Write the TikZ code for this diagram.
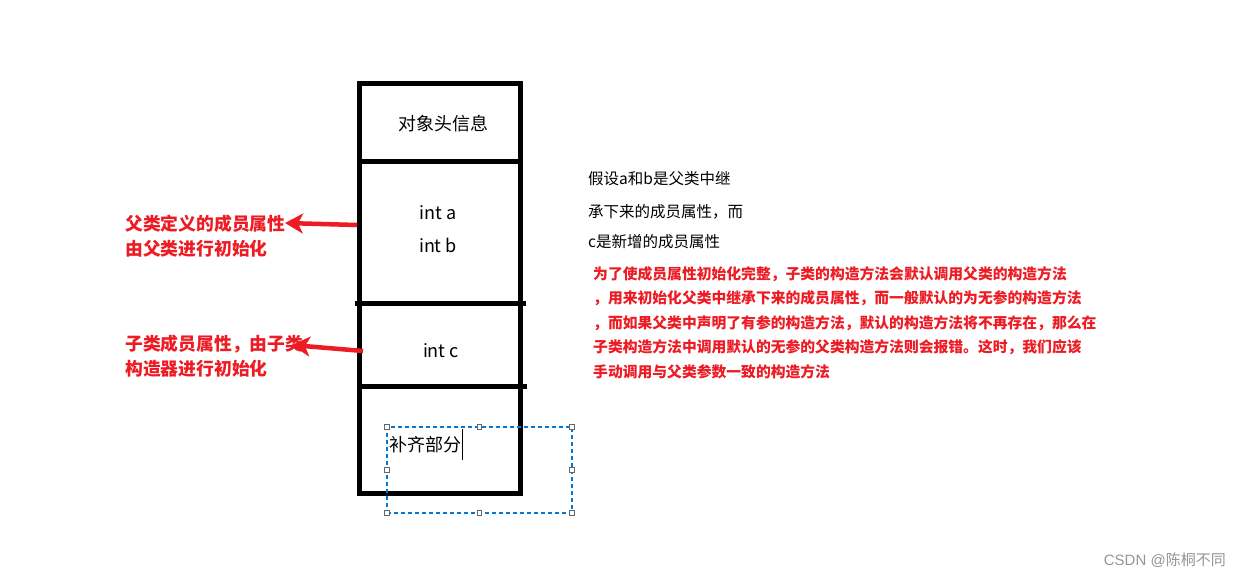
\documentclass[tikz,border=0pt]{standalone}
\usepackage{fontspec}
\setmainfont{Noto Sans CJK SC}
\newfontfamily\arialish{Liberation Sans}
\usetikzlibrary{arrows.meta}
\definecolor{redtxt}{RGB}{237,28,36}
\definecolor{selblue}{RGB}{0,120,215}
\definecolor{wmgray}{RGB}{150,150,150}
\begin{document}
\begin{tikzpicture}[x=1pt,y=-1pt,
  boxline/.style={line width=5pt},
  redarrow/.style={draw=redtxt, line width=4.5pt, -{Stealth[length=18pt,width=20pt,inset=5pt]}},
  redlabel/.style={text=redtxt, font=\fontsize{17.8}{24.5}\selectfont\bfseries, align=left, anchor=west, inner sep=0pt},
  redpara/.style={text=redtxt, font=\fontsize{14.8}{24.5}\selectfont\bfseries, align=left, anchor=north west, inner sep=0pt},
  blacktxt/.style={font=\fontsize{18}{18}\selectfont, inner sep=0pt},
  notetxt/.style={font=\fontsize{15.5}{15.5}\selectfont, anchor=west, inner sep=0pt},
  handle/.style={draw=gray!80!black, fill=white, line width=0.7pt, minimum size=4.5pt, inner sep=0pt}
]
\useasboundingbox (0,0) rectangle (1243,578);
\fill[white] (0,0) rectangle (1243,578);

% memory box
\node[draw, boxline, outer sep=0pt, minimum width=161pt, minimum height=409pt, anchor=north west, inner sep=0pt] (box) at (359.5,84) {};
\draw[boxline] (359.5,161.5) -- (520.5,161.5);
\draw[boxline] (355,303) -- (526,303);
\draw[boxline] (362,386.5) -- (527,386.5);

\node[blacktxt] (hdr) at (443,124) {对象头信息};
\node[blacktxt] (ia) at (438,213) {int a};
\node[blacktxt] (ib) at (438,245) {int b};
\node[blacktxt] (ic) at (441,351) {int c};

% selection box
\node[draw=selblue, dash pattern=on 4pt off 3pt, line width=1.1pt, outer sep=0pt, minimum width=185pt, minimum height=86pt, anchor=north west, inner sep=0pt] (sel) at (387,427) {};
\node[blacktxt, anchor=west] (pad) at (389,445) {补齐部分};
\draw[line width=1pt] (462,429) -- (462,460);
\foreach \p in {north west,north,north east,west,east,south west,south,south east}
  \node[handle] at (sel.\p) {};

% red labels
\node[redlabel] (lab1) at (125,236) {父类定义的成员属性\\由父类进行初始化};
\node[redlabel] (lab2) at (125,356) {子类成员属性，由子类\\构造器进行初始化};
\coordinate (t1) at (357,225);
\coordinate (h1) at (285,223);
\coordinate (t2) at (363,351);
\coordinate (h2) at (292,345);
\draw[redarrow] (t1) -- (h1);
\draw[redarrow] (t2) -- (h2);

% right notes
\node[notetxt] (n1) at (588,179) {假设a和b是父类中继};
\node[notetxt] (n2) at (588,212) {承下来的成员属性，而};
\node[notetxt] (n3) at (588,242) {c是新增的成员属性};

\node[redpara] (para) at (593,266) {为了使成员属性初始化完整，子类的构造方法会默认调用父类的构造方法\\
，用来初始化父类中继承下来的成员属性，而一般默认的为无参的构造方法\\
，而如果父类中声明了有参的构造方法，默认的构造方法将不再存在，那么在\\
子类构造方法中调用默认的无参的父类构造方法则会报错。这时，我们应该\\
手动调用与父类参数一致的构造方法};

\node[text=wmgray, font=\fontsize{15}{15}\selectfont, anchor=east, inner sep=0pt] (wm) at (1226,560) {{\arialish CSDN @}陈桐不同};
\end{tikzpicture}
\end{document}
